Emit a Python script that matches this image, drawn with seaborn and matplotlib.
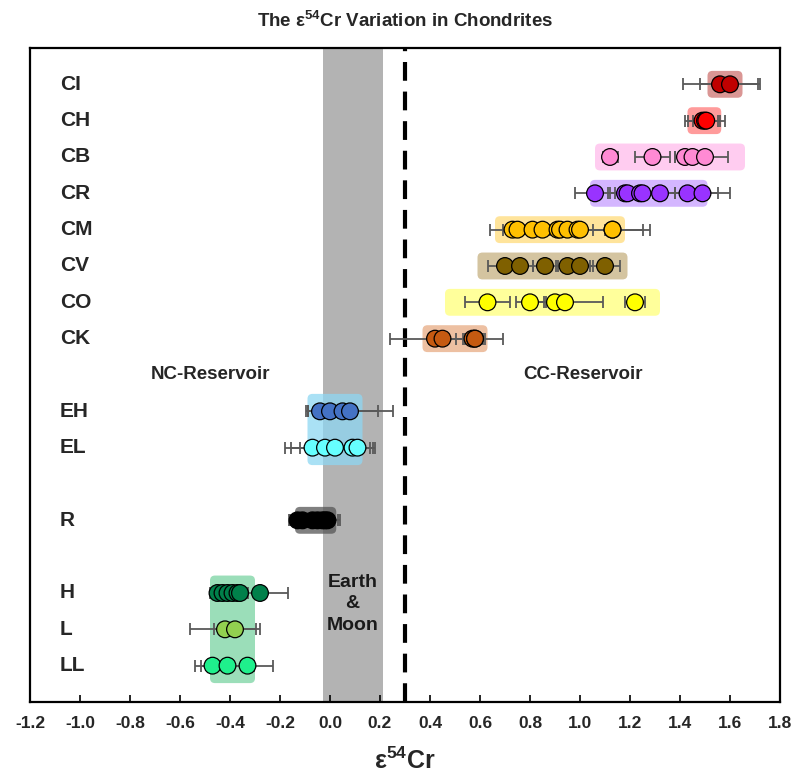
import numpy as np
import pandas as pd
import matplotlib
matplotlib.use('Agg')
import matplotlib.pyplot as plt
from matplotlib import font_manager
from matplotlib.patches import FancyBboxPatch
import seaborn as sns

# chondrite groups, one row each (gaps at 9, 12, 14)
groups = ['CI', 'CH', 'CB', 'CR', 'CM', 'CV', 'CO', 'CK', 'EH', 'EL', 'R', 'H', 'L', 'LL']
rows = [1, 2, 3, 4, 5, 6, 7, 8, 10, 11, 13, 15, 16, 17]

# e54Cr values
values = [
    [1.56, 1.60],
    [1.49, 1.50, 1.505],
    [1.12, 1.29, 1.42, 1.45, 1.50],
    [1.06, 1.18, 1.19, 1.24, 1.25, 1.32, 1.43, 1.49],
    [0.73, 0.75, 0.81, 0.85, 0.91, 0.92, 0.95, 0.99, 1.00, 1.13, 1.13],
    [0.70, 0.76, 0.86, 0.95, 1.00, 1.10],
    [0.63, 0.80, 0.90, 0.94, 1.22],
    [0.42, 0.45, 0.57, 0.58, 0.58],
    [-0.04, 0.00, 0.05, 0.08],
    [-0.07, -0.02, 0.02, 0.09, 0.11],
    [-0.13, -0.11, -0.07, -0.05, -0.03, -0.02, -0.01],
    [-0.45, -0.43, -0.41, -0.39, -0.37, -0.36, -0.28],
    [-0.42, -0.38],
    [-0.47, -0.41, -0.33],
]
errors = [
    [0.15, 0.12],
    [0.07, 0.05, 0.075],
    [0.03, 0.07, 0.04, 0.07, 0.09],
    [0.08, 0.06, 0.08, 0.05, 0.04, 0.06, 0.12, 0.11],
    [0.09, 0.06, 0.04, 0.05, 0.04, 0.05, 0.05, 0.11, 0.05, 0.15, 0.12],
    [0.07, 0.05, 0.05, 0.045, 0.05, 0.06],
    [0.09, 0.055, 0.035, 0.15, 0.04],
    [0.18, 0.055, 0.04, 0.04, 0.11],
    [0.055, 0.09, 0.14, 0.17],
    [0.11, 0.135, 0.14, 0.08, 0.07],
    [0.035, 0.05, 0.03, 0.03, 0.03, 0.06, 0.04],
    [0.03, 0.03, 0.03, 0.03, 0.03, 0.03, 0.11],
    [0.14, 0.085],
    [0.07, 0.105, 0.10],
]
colors = ['#C00000', '#FF0000', '#FF8AD4', '#9933FF', '#FFC000', '#7F6000', '#FFFF00',
          '#C55A11', '#4472C4', '#66FFFF', '#000000', '#00804A', '#92D050', '#1FF08C']

# shaded ranges (x extent, first and last group row)
box_lo = [1.51, 1.43, 1.06, 1.04, 0.66, 0.59, 0.46, 0.37, -0.09, -0.14, -0.48]
box_hi = [1.65, 1.565, 1.66, 1.51, 1.18, 1.19, 1.32, 0.63, 0.13, 0.025, -0.30]
box_first = ['CI', 'CH', 'CB', 'CR', 'CM', 'CV', 'CO', 'CK', 'EH', 'R', 'H']
box_last = ['CI', 'CH', 'CB', 'CR', 'CM', 'CV', 'CO', 'CK', 'EL', 'R', 'LL']
box_colors = ['#CE7370', '#FF7A7A', '#FFBCEB', '#C69EFF', '#FFDB7A', '#C6B080', '#FFFF7A',
              '#E7AB83', '#8ED7F2', '#565656', '#7AD3A2']

earth_moon = (-0.03, 0.21)
boundary = 0.3
xticks = [-1.2, -1.0, -0.8, -0.6, -0.4, -0.2, 0.0, 0.2, 0.4, 0.6, 0.8, 1.0, 1.2, 1.4, 1.6, 1.8]

sns.set_style('white')
names = {f.name for f in font_manager.fontManager.ttflist}
narrow = 'Liberation Sans Narrow' if 'Liberation Sans Narrow' in names else 'Liberation Sans'
plt.rcParams['font.family'] = ['Liberation Sans', 'DejaVu Sans']
plt.rcParams['mathtext.fontset'] = 'custom'
plt.rcParams['mathtext.rm'] = narrow + ':bold'
plt.rcParams['mathtext.bf'] = narrow + ':bold'
plt.rcParams['mathtext.it'] = narrow + ':bold'

df = pd.DataFrame([
    {'group': g, 'row': r, 'val': v, 'err': e}
    for g, r, vs, es in zip(groups, rows, values, errors)
    for v, e in zip(vs, es)
])
row_of = dict(zip(groups, rows))

fig = plt.figure(figsize=(8, 7.84), dpi=100)
ax = fig.add_axes([0.0375, 0.1046, 0.9375, 0.8342])

ax.axvspan(*earth_moon, color='#B3B3B3', lw=0, zorder=0)
ax.axvline(boundary, color='black', lw=3, ls=(0, (4.5, 2.6)), zorder=1)

# rounded boxes; mutation_aspect compensates for unequal x/y scale
for lo, hi, g0, g1, c in zip(box_lo, box_hi, box_first, box_last, box_colors):
    pad = 0.37 if g0 == g1 else 0.48
    y0 = row_of[g0] - pad
    y1 = row_of[g1] + pad
    ax.add_patch(FancyBboxPatch((lo, y0), hi - lo, y1 - y0,
                                boxstyle='round,pad=0,rounding_size=0.02',
                                mutation_aspect=6.9, fc=c, ec='none', alpha=0.75, zorder=2))

ax.errorbar(df['val'], df['row'], xerr=df['err'], fmt='none', ecolor='#595959',
            elinewidth=1.3, capsize=4, capthick=1.3, zorder=3)

sns.scatterplot(data=df, x='val', y='row', hue='group', palette=dict(zip(groups, colors)),
                s=145, edgecolor='black', linewidth=0.9, legend=False, ax=ax, zorder=4)

for g, r in zip(groups, rows):
    ax.text(-1.08, r, g, fontsize=15, fontweight='bold', va='center', ha='left')

ax.text(-0.48, 9, 'NC-Reservoir', fontsize=13.5, fontweight='bold', ha='center', va='center')
ax.text(1.01, 9, 'CC-Reservoir', fontsize=13.5, fontweight='bold', ha='center', va='center')
ax.text(np.mean(earth_moon), 15.3, 'Earth\n&\nMoon', fontsize=14, fontweight='bold',
        ha='center', va='center', linespacing=1.32, color='#1a1a1a', zorder=5)

ax.set_xlim(-1.2, 1.8)
ax.set_ylim(18, 0)
ax.set_yticks([])
ax.set_xticks(xticks)
ax.set_xticklabels(['%.1f' % t for t in xticks], fontfamily=narrow, fontweight='bold', fontsize=12.5)
ax.tick_params(axis='x', direction='in', length=5, width=1.2, pad=10, bottom=True, color='black')
ax.set_xlabel(r'ε$^{54}$Cr', fontfamily=narrow, fontweight='bold', fontsize=18, labelpad=12)
ax.set_ylabel('')
ax.set_title(r'The ε$^{54}$Cr Variation in Chondrites', fontfamily=narrow, fontweight='bold',
             fontsize=13.5, pad=15)
for s in ax.spines.values():
    s.set_visible(True)
    s.set_color('black')
    s.set_linewidth(1.6)

fig.savefig('out.png', dpi=100)
